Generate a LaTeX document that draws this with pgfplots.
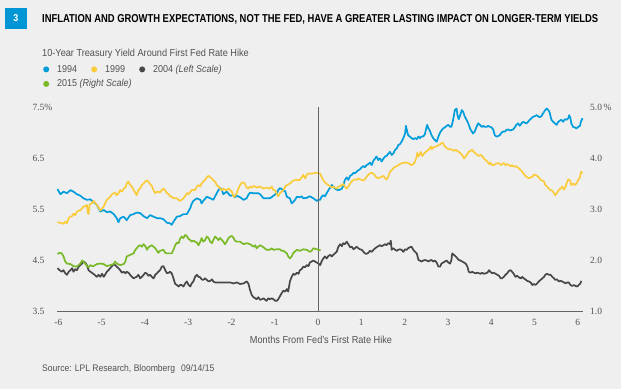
\documentclass[border=0pt]{standalone}
\usepackage{fontspec}
\usepackage{pgfplots}
\pgfplotsset{compat=1.18}
\newfontfamily\cond{Liberation Sans}[FakeStretch=0.9]
\newfontfamily\tickfont{Liberation Serif}
\definecolor{bgc}{RGB}{239,239,239}
\definecolor{blueC}{RGB}{0,157,220}
\definecolor{yellowC}{RGB}{250,204,60}
\definecolor{darkC}{RGB}{72,72,74}
\definecolor{greenC}{RGB}{122,186,40}
\definecolor{boxblue}{RGB}{0,150,214}
\definecolor{labgray}{RGB}{80,81,83}
\definecolor{axisgray}{RGB}{100,100,102}
\begin{document}
\begin{tikzpicture}
\fill[bgc, use as bounding box] (0pt,0pt) rectangle (621pt,389pt);
\fill[boxblue] (5pt,360pt) rectangle (27pt,381pt);
\node[text=white, font=\cond\bfseries\fontsize{10}{10}\selectfont] at (16pt,370.5pt) {3};
\node[anchor=base west, inner sep=0pt, text=black] at (42pt,366pt) {\resizebox{556pt}{8pt}{\cond\bfseries INFLATION AND GROWTH EXPECTATIONS, NOT THE FED, HAVE A GREATER LASTING IMPACT ON LONGER-TERM YIELDS}};
\node[anchor=base west, inner sep=0pt, text=labgray, font=\cond\fontsize{10.2}{12}\selectfont] at (42pt,332pt) {10-Year Treasury Yield Around First Fed Rate Hike};
\node[anchor=base, inner sep=0pt, text=labgray, font=\cond\fontsize{10.2}{12}\selectfont] at (321pt,46pt) {Months From Fed’s First Rate Hike};
\node[anchor=base west, inner sep=0pt, text=labgray, font=\cond\fontsize{9.5}{12}\selectfont] at (42pt,18pt) {Source: LPL Research, Bloomberg\hspace{6pt}09/14/15};

\begin{axis}[
  at={(57pt,78pt)}, anchor=south west,
  scale only axis, width=526pt, height=204pt,
  xmin=-6.03, xmax=6.12, ymin=3.5, ymax=7.5,
  axis x line*=bottom, axis y line*=left,
  y axis line style={draw=none},
  x axis line style={draw=axisgray, line width=0.8pt, -},
  major tick length=0pt,
  xtick={-6,-5,-4,-3,-2,-1,0,1,2,3,4,5,6},
  xticklabels={-6,-5,-4,-3,-2,-1,0,1,2,3,4,5,6},
  ytick={3.5,4.5,5.5,6.5,7.5},
  yticklabels={3.5,4.5,5.5,6.5,7.5\%},
  tick label style={font=\tickfont\fontsize{9.5}{10}\selectfont, text=labgray},
  yticklabel style={anchor=west, xshift=-28pt},
  xticklabel style={yshift=-5pt},
  clip=false,
  every axis plot/.append style={line width=1.7pt, line join=round},
  legend columns=3,
  legend cell align=left,
  legend image code/.code={\path[draw=none,fill=none] (-3pt,-2pt) rectangle (9pt,2pt); \fill[draw=none] (0pt,0.3pt) circle (3pt);},
  legend style={at={(axis description cs:0,1)}, anchor=north west, xshift=-14pt, yshift=44pt,
    draw=none, fill=none, inner xsep=0pt, inner ysep=0pt, row sep=1.5pt, column sep=0pt,
    font=\cond\fontsize{10}{12}\selectfont, text=labgray,
    nodes={inner sep=2pt, text height=7pt, text depth=2pt}},
]
\addplot[color=blueC] table {
-6.02 5.89
-5.95 5.79
-5.88 5.84
-5.80 5.81
-5.72 5.87
-5.65 5.84
-5.57 5.79
-5.49 5.76
-5.42 5.71
-5.34 5.68
-5.26 5.69
-5.19 5.64
-5.11 5.58
-5.03 5.45
-4.95 5.48
-4.88 5.44
-4.80 5.45
-4.72 5.40
-4.65 5.32
-4.61 5.24
-4.57 5.32
-4.49 5.35
-4.42 5.28
-4.34 5.38
-4.26 5.40
-4.19 5.43
-4.11 5.42
-4.03 5.36
-3.95 5.32
-3.88 5.38
-3.80 5.35
-3.72 5.32
-3.65 5.32
-3.57 5.30
-3.49 5.23
-3.42 5.22
-3.38 5.19
-3.34 5.25
-3.26 5.35
-3.19 5.36
-3.11 5.40
-3.03 5.40
-2.95 5.52
-2.92 5.60
-2.88 5.66
-2.80 5.71
-2.72 5.68
-2.69 5.61
-2.65 5.66
-2.57 5.74
-2.49 5.71
-2.42 5.68
-2.34 5.81
-2.30 5.87
-2.26 5.91
-2.22 5.87
-2.19 5.79
-2.11 5.84
-2.03 5.76
-1.95 5.77
-1.92 5.73
-1.88 5.76
-1.80 5.73
-1.72 5.68
-1.65 5.71
-1.61 5.78
-1.57 5.82
-1.49 5.81
-1.42 5.81
-1.38 5.81
-1.34 5.79
-1.26 5.71
-1.19 5.71
-1.11 5.71
-1.03 5.76
-0.95 5.81
-0.92 5.87
-0.88 5.91
-0.84 5.89
-0.80 5.86
-0.76 5.85
-0.72 5.74
-0.65 5.71
-0.61 5.61
-0.57 5.64
-0.53 5.68
-0.49 5.74
-0.42 5.73
-0.38 5.75
-0.34 5.71
-0.26 5.72
-0.19 5.75
-0.11 5.71
-0.03 5.66
0.01 5.68
0.05 5.68
0.08 5.74
0.12 5.77
0.16 5.75
0.20 5.81
0.24 5.87
0.28 5.92
0.32 5.97
0.35 5.94
0.39 5.90
0.43 5.88
0.47 5.87
0.51 5.88
0.55 5.90
0.58 5.95
0.62 6.07
0.66 6.12
0.70 6.07
0.74 6.15
0.78 6.17
0.82 6.21
0.85 6.20
0.89 6.23
0.93 6.26
0.97 6.28
1.01 6.32
1.05 6.34
1.08 6.32
1.12 6.36
1.16 6.38
1.20 6.41
1.24 6.36
1.28 6.45
1.32 6.49
1.35 6.53
1.39 6.46
1.43 6.49
1.47 6.43
1.51 6.49
1.55 6.53
1.58 6.54
1.62 6.58
1.66 6.62
1.70 6.56
1.74 6.59
1.78 6.66
1.82 6.69
1.85 6.75
1.89 6.77
1.93 6.82
1.97 6.89
2.01 6.98
2.03 7.13
2.06 7.02
2.08 6.95
2.12 6.92
2.16 6.89
2.20 6.87
2.24 6.89
2.28 6.87
2.32 6.92
2.35 6.89
2.39 6.92
2.43 6.92
2.47 6.97
2.49 7.05
2.52 7.15
2.55 7.08
2.58 7.04
2.62 6.95
2.66 6.89
2.70 6.85
2.74 6.82
2.78 6.92
2.82 7.00
2.85 7.04
2.89 7.08
2.93 7.10
2.97 7.13
3.01 7.15
3.05 7.11
3.08 7.11
3.12 7.25
3.16 7.44
3.20 7.47
3.22 7.34
3.25 7.26
3.29 7.36
3.32 7.44
3.35 7.41
3.39 7.31
3.43 7.25
3.47 7.18
3.51 7.08
3.55 7.02
3.58 6.98
3.62 7.02
3.66 7.11
3.70 7.18
3.74 7.15
3.78 7.11
3.82 7.13
3.85 7.11
3.89 7.11
3.93 7.13
3.97 7.11
4.01 7.10
4.05 7.05
4.08 6.95
4.12 6.92
4.16 6.93
4.20 6.95
4.24 7.00
4.28 7.02
4.32 7.02
4.35 7.05
4.39 7.06
4.43 7.04
4.47 7.05
4.51 7.06
4.55 7.11
4.58 7.15
4.62 7.18
4.66 7.13
4.70 7.18
4.74 7.21
4.78 7.19
4.82 7.18
4.85 7.21
4.89 7.25
4.93 7.28
4.97 7.31
5.01 7.32
5.05 7.34
5.08 7.32
5.12 7.30
5.16 7.32
5.20 7.38
5.24 7.43
5.28 7.47
5.32 7.44
5.35 7.39
5.39 7.25
5.43 7.21
5.47 7.18
5.51 7.15
5.55 7.21
5.58 7.23
5.62 7.25
5.66 7.21
5.70 7.26
5.74 7.25
5.78 7.28
5.80 7.34
5.83 7.28
5.85 7.18
5.89 7.11
5.93 7.10
5.97 7.08
6.01 7.11
6.05 7.13
6.07 7.21
6.11 7.28
};
\addlegendentry{\makebox[32pt][l]{1994}}
\addplot[color=yellowC] table {
-6.02 5.24
-5.95 5.23
-5.88 5.21
-5.84 5.25
-5.80 5.22
-5.76 5.32
-5.72 5.35
-5.68 5.36
-5.65 5.41
-5.61 5.38
-5.57 5.45
-5.49 5.48
-5.45 5.51
-5.42 5.55
-5.38 5.55
-5.34 5.58
-5.32 5.43
-5.30 5.40
-5.28 5.58
-5.22 5.62
-5.19 5.66
-5.15 5.62
-5.11 5.58
-5.07 5.53
-5.03 5.47
-4.99 5.51
-4.95 5.55
-4.92 5.61
-4.88 5.68
-4.84 5.71
-4.80 5.74
-4.76 5.79
-4.72 5.81
-4.69 5.82
-4.65 5.77
-4.61 5.81
-4.57 5.87
-4.53 5.84
-4.49 5.90
-4.45 5.92
-4.42 6.00
-4.38 6.04
-4.34 5.97
-4.30 5.94
-4.26 5.87
-4.22 5.82
-4.19 5.77
-4.15 5.87
-4.11 5.90
-4.07 5.97
-4.03 6.00
-3.99 6.04
-3.95 6.06
-3.92 6.04
-3.88 5.99
-3.84 5.95
-3.80 5.87
-3.76 5.81
-3.72 5.84
-3.69 5.84
-3.65 5.82
-3.61 5.87
-3.57 5.90
-3.53 5.86
-3.49 5.81
-3.45 5.79
-3.42 5.75
-3.38 5.74
-3.34 5.71
-3.30 5.71
-3.26 5.71
-3.22 5.68
-3.19 5.66
-3.15 5.68
-3.11 5.71
-3.07 5.75
-3.03 5.81
-2.99 5.79
-2.95 5.84
-2.92 5.87
-2.88 5.88
-2.84 5.87
-2.80 5.94
-2.76 5.97
-2.72 5.94
-2.69 6.00
-2.65 6.04
-2.61 6.07
-2.57 6.12
-2.53 6.15
-2.49 6.12
-2.45 6.10
-2.42 6.06
-2.38 6.04
-2.34 5.97
-2.30 5.94
-2.26 5.90
-2.22 5.87
-2.19 5.90
-2.15 5.88
-2.11 5.87
-2.07 5.90
-2.03 5.87
-1.99 5.84
-1.95 5.74
-1.92 5.75
-1.88 5.81
-1.84 5.90
-1.80 5.97
-1.76 6.02
-1.72 6.02
-1.69 5.99
-1.65 5.92
-1.61 5.90
-1.57 5.94
-1.53 5.92
-1.49 5.95
-1.45 5.94
-1.42 5.92
-1.34 5.94
-1.26 5.90
-1.19 5.92
-1.11 5.90
-1.07 5.94
-1.03 5.87
-0.99 5.87
-0.95 5.79
-0.92 5.75
-0.88 5.81
-0.84 5.84
-0.80 5.87
-0.76 5.94
-0.72 5.97
-0.65 6.00
-0.57 6.06
-0.49 6.07
-0.42 6.07
-0.38 6.12
-0.34 6.17
-0.30 6.10
-0.26 6.17
-0.22 6.20
-0.19 6.19
-0.11 6.20
-0.03 6.21
0.01 6.21
0.05 6.19
0.08 6.13
0.12 6.07
0.16 6.02
0.20 5.99
0.24 5.97
0.28 5.94
0.32 5.92
0.35 5.94
0.39 5.92
0.43 5.90
0.47 5.94
0.51 5.95
0.55 5.97
0.58 5.99
0.62 5.94
0.66 5.90
0.70 5.94
0.74 6.00
0.78 6.04
0.82 6.07
0.85 6.08
0.89 6.07
0.93 6.10
0.97 6.08
1.01 6.07
1.05 6.06
1.08 6.08
1.12 6.13
1.16 6.17
1.20 6.20
1.24 6.21
1.28 6.19
1.32 6.15
1.35 6.12
1.39 6.10
1.43 6.12
1.47 6.13
1.51 6.15
1.55 6.10
1.58 6.08
1.62 6.13
1.66 6.23
1.70 6.26
1.74 6.30
1.78 6.33
1.82 6.34
1.85 6.36
1.89 6.38
1.93 6.40
1.97 6.40
2.01 6.41
2.05 6.41
2.08 6.40
2.12 6.38
2.16 6.36
2.20 6.38
2.24 6.43
2.28 6.53
2.29 6.60
2.32 6.53
2.34 6.56
2.37 6.62
2.41 6.54
2.45 6.59
2.49 6.62
2.55 6.66
2.58 6.69
2.61 6.72
2.63 6.67
2.66 6.71
2.70 6.72
2.74 6.73
2.78 6.75
2.82 6.77
2.85 6.79
2.88 6.80
2.91 6.75
2.95 6.71
2.98 6.69
3.02 6.67
3.06 6.67
3.10 6.66
3.14 6.64
3.18 6.66
3.22 6.64
3.25 6.62
3.29 6.59
3.33 6.56
3.37 6.49
3.41 6.53
3.45 6.58
3.48 6.62
3.52 6.64
3.56 6.66
3.60 6.62
3.64 6.59
3.68 6.56
3.72 6.54
3.75 6.56
3.79 6.54
3.83 6.49
3.87 6.46
3.91 6.43
3.95 6.38
3.98 6.41
4.02 6.36
4.06 6.36
4.10 6.38
4.14 6.40
4.18 6.40
4.22 6.36
4.25 6.38
4.29 6.40
4.33 6.36
4.37 6.38
4.41 6.36
4.45 6.34
4.48 6.36
4.52 6.33
4.56 6.34
4.60 6.32
4.64 6.30
4.68 6.26
4.72 6.23
4.75 6.19
4.79 6.15
4.83 6.12
4.87 6.10
4.91 6.12
4.95 6.13
4.98 6.17
5.02 6.17
5.06 6.15
5.10 6.12
5.14 6.07
5.18 6.06
5.22 6.04
5.25 5.97
5.29 5.94
5.33 5.90
5.37 5.87
5.41 5.86
5.45 5.81
5.48 5.77
5.52 5.82
5.56 5.87
5.60 5.90
5.64 5.94
5.68 5.88
5.72 5.94
5.74 6.00
5.78 6.08
5.82 6.06
5.85 5.97
5.89 6.00
5.93 5.97
5.97 6.00
6.01 6.07
6.05 6.12
6.07 6.23
6.11 6.20
};
\addlegendentry{\makebox[32pt][l]{1999}}
\addplot[color=darkC] table {
-6.02 4.34
-5.97 4.30
-5.92 4.27
-5.88 4.30
-5.84 4.24
-5.80 4.21
-5.76 4.27
-5.72 4.30
-5.68 4.34
-5.65 4.27
-5.61 4.32
-5.57 4.30
-5.53 4.37
-5.49 4.40
-5.45 4.43
-5.42 4.47
-5.38 4.45
-5.34 4.40
-5.30 4.30
-5.26 4.27
-5.19 4.23
-5.11 4.17
-5.07 4.21
-5.03 4.17
-4.99 4.23
-4.95 4.17
-4.92 4.21
-4.88 4.27
-4.84 4.30
-4.80 4.34
-4.76 4.38
-4.72 4.42
-4.69 4.40
-4.65 4.37
-4.61 4.34
-4.57 4.30
-4.53 4.25
-4.49 4.27
-4.45 4.24
-4.42 4.27
-4.38 4.25
-4.34 4.21
-4.30 4.17
-4.26 4.14
-4.22 4.16
-4.19 4.17
-4.15 4.21
-4.11 4.14
-4.07 4.17
-4.03 4.21
-3.99 4.25
-3.95 4.23
-3.92 4.19
-3.88 4.21
-3.84 4.17
-3.80 4.14
-3.76 4.21
-3.72 4.24
-3.69 4.27
-3.65 4.30
-3.61 4.37
-3.57 4.38
-3.53 4.30
-3.49 4.24
-3.45 4.25
-3.42 4.27
-3.38 4.24
-3.34 4.14
-3.30 4.03
-3.26 4.01
-3.22 3.98
-3.19 4.01
-3.15 4.01
-3.11 3.98
-3.07 4.04
-3.03 4.08
-2.99 4.01
-2.95 3.98
-2.92 4.04
-2.88 4.08
-2.84 4.17
-2.80 4.21
-2.76 4.17
-2.72 4.16
-2.69 4.12
-2.65 4.11
-2.61 4.14
-2.57 4.11
-2.53 4.08
-2.49 4.09
-2.45 4.12
-2.42 4.08
-2.38 4.06
-2.30 4.06
-2.19 4.06
-2.11 4.06
-2.03 4.06
-1.95 4.04
-1.88 4.06
-1.80 4.03
-1.72 4.04
-1.65 4.08
-1.61 4.04
-1.57 3.91
-1.53 3.81
-1.49 3.77
-1.45 3.75
-1.42 3.73
-1.38 3.77
-1.34 3.72
-1.30 3.73
-1.26 3.75
-1.22 3.72
-1.19 3.70
-1.15 3.75
-1.11 3.73
-1.07 3.75
-1.03 3.73
-0.99 3.70
-0.95 3.70
-0.92 3.73
-0.88 3.79
-0.84 3.85
-0.80 3.90
-0.76 3.88
-0.72 3.93
-0.69 3.88
-0.65 4.08
-0.61 4.17
-0.57 4.23
-0.53 4.21
-0.49 4.25
-0.45 4.23
-0.42 4.30
-0.38 4.32
-0.34 4.37
-0.30 4.36
-0.26 4.40
-0.22 4.38
-0.19 4.45
-0.15 4.47
-0.11 4.49
-0.07 4.47
-0.03 4.45
0.01 4.43
0.05 4.40
0.08 4.47
0.12 4.53
0.16 4.57
0.20 4.53
0.24 4.58
0.28 4.60
0.32 4.57
0.35 4.60
0.39 4.63
0.43 4.66
0.47 4.76
0.51 4.81
0.55 4.77
0.58 4.83
0.62 4.81
0.66 4.86
0.70 4.81
0.74 4.75
0.78 4.76
0.82 4.71
0.85 4.73
0.89 4.76
0.93 4.73
0.97 4.71
1.01 4.70
1.05 4.66
1.08 4.63
1.12 4.62
1.16 4.64
1.20 4.68
1.24 4.66
1.28 4.70
1.32 4.73
1.35 4.75
1.39 4.77
1.43 4.79
1.47 4.77
1.51 4.79
1.55 4.81
1.58 4.79
1.62 4.83
1.66 4.81
1.68 4.88
1.70 4.70
1.74 4.73
1.78 4.70
1.82 4.68
1.85 4.70
1.89 4.71
1.93 4.70
1.97 4.66
2.01 4.71
2.05 4.70
2.08 4.73
2.12 4.75
2.16 4.76
2.20 4.70
2.24 4.66
2.28 4.63
2.32 4.50
2.35 4.49
2.39 4.47
2.43 4.49
2.47 4.50
2.51 4.49
2.55 4.47
2.58 4.49
2.62 4.50
2.66 4.47
2.70 4.49
2.74 4.45
2.78 4.37
2.82 4.37
2.85 4.43
2.89 4.45
2.93 4.47
2.97 4.49
3.01 4.45
3.05 4.43
3.08 4.50
3.10 4.63
3.14 4.60
3.18 4.57
3.22 4.53
3.25 4.50
3.29 4.49
3.33 4.47
3.37 4.45
3.41 4.43
3.45 4.37
3.48 4.27
3.52 4.25
3.56 4.27
3.60 4.25
3.64 4.24
3.68 4.25
3.72 4.24
3.75 4.23
3.79 4.25
3.83 4.23
3.87 4.24
3.91 4.25
3.95 4.30
3.98 4.27
4.02 4.24
4.06 4.25
4.10 4.23
4.14 4.21
4.18 4.19
4.22 4.14
4.25 4.14
4.29 4.17
4.33 4.21
4.37 4.24
4.41 4.29
4.45 4.30
4.48 4.27
4.52 4.23
4.56 4.17
4.60 4.19
4.64 4.16
4.68 4.14
4.72 4.17
4.75 4.14
4.79 4.12
4.83 4.09
4.87 4.08
4.91 4.06
4.95 4.01
4.98 4.03
5.02 4.01
5.06 4.04
5.10 4.08
5.14 4.11
5.18 4.14
5.22 4.17
5.25 4.21
5.29 4.23
5.33 4.21
5.37 4.21
5.41 4.17
5.45 4.14
5.48 4.11
5.52 4.12
5.56 4.08
5.60 4.09
5.64 4.08
5.68 4.06
5.72 4.04
5.75 4.06
5.79 4.06
5.83 4.01
5.87 3.99
5.91 4.01
5.95 3.99
5.99 3.98
6.02 4.01
6.06 4.04
6.08 4.09
};
\addlegendentry{\makebox[32pt][l]{2004 \textit{(Left Scale)}}}
\addlegendimage{color=greenC}
\addlegendentry{\makebox[32pt][l]{2015 \textit{(Right Scale)}}}
\draw[axisgray, line width=0.8pt] (axis cs:0,3.5) -- (axis cs:0,7.5);
\end{axis}

\begin{axis}[
  at={(57pt,78pt)}, anchor=south west,
  scale only axis, width=526pt, height=204pt,
  xmin=-6.03, xmax=6.12, ymin=1, ymax=5,
  hide x axis,
  axis y line*=right,
  y axis line style={draw=none},
  major tick length=0pt,
  ytick={1,2,3,4,5},
  yticklabels={1.0,2.0,3.0,4.0,5.0\,\%},
  tick label style={font=\tickfont\fontsize{9.5}{10}\selectfont, text=labgray},
  yticklabel style={xshift=3.7pt},
  clip=false,
  every axis plot/.append style={line width=1.7pt, line join=round},
]
\addplot[color=greenC] table {
-6.02 2.12
-5.97 2.14
-5.92 2.13
-5.88 2.07
-5.84 1.97
-5.80 1.93
-5.72 1.92
-5.65 1.88
-5.57 1.87
-5.49 1.93
-5.45 1.99
-5.42 1.97
-5.38 1.93
-5.34 1.88
-5.30 1.86
-5.26 1.90
-5.22 1.88
-5.19 1.88
-5.11 1.92
-5.03 1.93
-4.95 1.92
-4.88 1.88
-4.80 1.90
-4.72 1.92
-4.69 1.97
-4.65 1.93
-4.57 1.90
-4.49 1.92
-4.45 1.97
-4.42 2.07
-4.34 2.10
-4.26 2.13
-4.22 2.20
-4.19 2.23
-4.15 2.27
-4.11 2.29
-4.07 2.26
-4.03 2.31
-3.99 2.27
-3.95 2.20
-3.92 2.25
-3.88 2.27
-3.84 2.29
-3.80 2.26
-3.76 2.23
-3.72 2.18
-3.69 2.14
-3.65 2.18
-3.57 2.20
-3.53 2.14
-3.49 2.13
-3.42 2.13
-3.38 2.13
-3.34 2.20
-3.30 2.29
-3.26 2.34
-3.22 2.33
-3.19 2.41
-3.15 2.46
-3.11 2.43
-3.07 2.49
-3.03 2.47
-2.99 2.41
-2.95 2.39
-2.92 2.36
-2.88 2.38
-2.80 2.34
-2.76 2.29
-2.72 2.36
-2.69 2.43
-2.65 2.36
-2.61 2.39
-2.57 2.46
-2.53 2.43
-2.49 2.36
-2.45 2.33
-2.42 2.39
-2.38 2.46
-2.34 2.43
-2.30 2.39
-2.26 2.43
-2.22 2.39
-2.19 2.36
-2.15 2.31
-2.11 2.36
-2.07 2.43
-2.03 2.46
-1.99 2.47
-1.95 2.43
-1.92 2.38
-1.88 2.36
-1.80 2.36
-1.72 2.31
-1.65 2.33
-1.57 2.31
-1.49 2.26
-1.45 2.29
-1.42 2.23
-1.34 2.29
-1.26 2.25
-1.19 2.20
-1.11 2.20
-1.07 2.23
-1.03 2.20
-0.95 2.21
-0.88 2.21
-0.84 2.18
-0.80 2.18
-0.72 2.13
-0.69 2.07
-0.65 2.03
-0.61 2.07
-0.57 2.14
-0.49 2.20
-0.42 2.18
-0.34 2.21
-0.26 2.20
-0.19 2.16
-0.15 2.18
-0.11 2.23
-0.03 2.21
0.01 2.20
0.06 2.19
};
\end{axis}
\end{tikzpicture}
\end{document}
